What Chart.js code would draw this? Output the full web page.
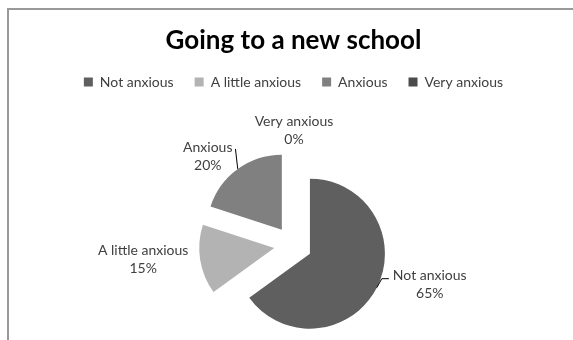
<!DOCTYPE html>
<html><head><meta charset="utf-8">
<script src="https://cdn.jsdelivr.net/npm/chart.js@4.4.0/dist/chart.umd.min.js"></script>
<style>html,body{margin:0;padding:0;background:#fff;}#wrap{width:573px;height:340px;}</style>
</head><body><div id="wrap"><canvas id="c" width="573" height="340"></canvas></div>
<script>
const chartTitle = 'Going to a new school';
const categories = ['Not anxious', 'A little anxious', 'Anxious', 'Very anxious'];
const values = [65, 15, 20, 0];
const percentLabels = ['65%', '15%', '20%', '0%'];
const sliceColors = ['#5f5f5f', '#b3b3b3', '#808080', '#4b4b4b'];

// annotation placement (label block centre relative to the slice's outer mid-point)
const labelOffsets = [[53, -3], [-57, 0], [-30, -12], [1, -21]];
const leaderKinds = ['elbow', null, 'straight', null];
const EXPLODE = 19, PIE_R = 75, PIE_CX = 293, PIE_CY = 245;
const LABEL_FONT = '14px Lato', TEXT_COL = '#404040';

const framePlugin = {
  id: 'frame',
  beforeDraw(chart) {
    const ctx = chart.ctx;
    ctx.save();
    ctx.fillStyle = '#fff';
    ctx.fillRect(0, 0, chart.width, chart.height);
    ctx.strokeStyle = '#999';
    ctx.lineWidth = 2;
    ctx.strokeRect(8, 9, chart.width + 20, chart.height + 20);
    ctx.restore();
  }
};
const areaPlugin = {
  id: 'pieArea',
  afterLayout(chart) {
    const a = chart.chartArea;
    a.left = PIE_CX - PIE_R; a.right = PIE_CX + PIE_R;
    a.top = PIE_CY - PIE_R; a.bottom = PIE_CY + PIE_R;
    a.width = 2 * PIE_R; a.height = 2 * PIE_R;
  }
};
const explodePlugin = {
  id: 'explode',
  afterDatasetsUpdate(chart) {
    chart.getDatasetMeta(0).data.forEach(arc => {
      const m = (arc.startAngle + arc.endAngle) / 2;
      arc.x += Math.cos(m) * EXPLODE;
      arc.y += Math.sin(m) * EXPLODE;
    });
  }
};
const labelPlugin = {
  id: 'sliceLabels',
  afterDatasetsDraw(chart) {
    const ctx = chart.ctx;
    ctx.save();
    ctx.font = LABEL_FONT;
    ctx.fillStyle = TEXT_COL;
    ctx.strokeStyle = '#000';
    ctx.lineWidth = 1;
    ctx.textAlign = 'center';
    ctx.textBaseline = 'middle';
    chart.getDatasetMeta(0).data.forEach((arc, i) => {
      const m = (arc.startAngle + arc.endAngle) / 2;
      const ox = arc.x + Math.cos(m) * arc.outerRadius;
      const oy = arc.y + Math.sin(m) * arc.outerRadius;
      const cx = ox + labelOffsets[i][0];
      const cy = oy + labelOffsets[i][1];
      const y1 = cy - 9, y2 = cy + 9;
      ctx.fillText(categories[i], cx, y1);
      ctx.fillText(percentLabels[i], cx, y2);
      const hw = ctx.measureText(categories[i]).width / 2;
      if (leaderKinds[i] === 'elbow') {
        ctx.beginPath();
        ctx.moveTo(cx - hw - 4, y1 + 3);
        ctx.lineTo(cx - hw - 11, y1 + 3);
        ctx.lineTo(ox, oy);
        ctx.stroke();
      } else if (leaderKinds[i] === 'straight') {
        ctx.beginPath();
        ctx.moveTo(cx + hw + 3, y1 + 1);
        ctx.lineTo(ox, oy);
        ctx.stroke();
      }
    });
    ctx.restore();
  }
};

new Chart(document.getElementById('c'), {
  type: 'pie',
  data: {
    labels: categories,
    datasets: [{
      data: values,
      backgroundColor: sliceColors,
      borderWidth: 0,
      hoverBorderWidth: 0,
      hoverOffset: 0,
      radius: PIE_R,
      clip: false
    }]
  },
  options: {
    responsive: false,
    animation: false,
    events: [],
    devicePixelRatio: 1,
    layout: { padding: { left: 14, top: 0, right: 0, bottom: 0 } },
    plugins: {
      title: {
        display: true,
        text: chartTitle,
        color: '#000',
        font: { family: 'Lato', size: 26, weight: 'bold', lineHeight: 1.0 },
        padding: { top: 28, bottom: 0 }
      },
      legend: {
        display: true,
        position: 'top',
        labels: {
          boxWidth: 9,
          boxHeight: 9,
          padding: 21,
          color: TEXT_COL,
          font: { family: 'Lato', size: 14 }
        }
      },
      tooltip: { enabled: false }
    }
  },
  plugins: [framePlugin, areaPlugin, explodePlugin, labelPlugin]
});
</script></body></html>
